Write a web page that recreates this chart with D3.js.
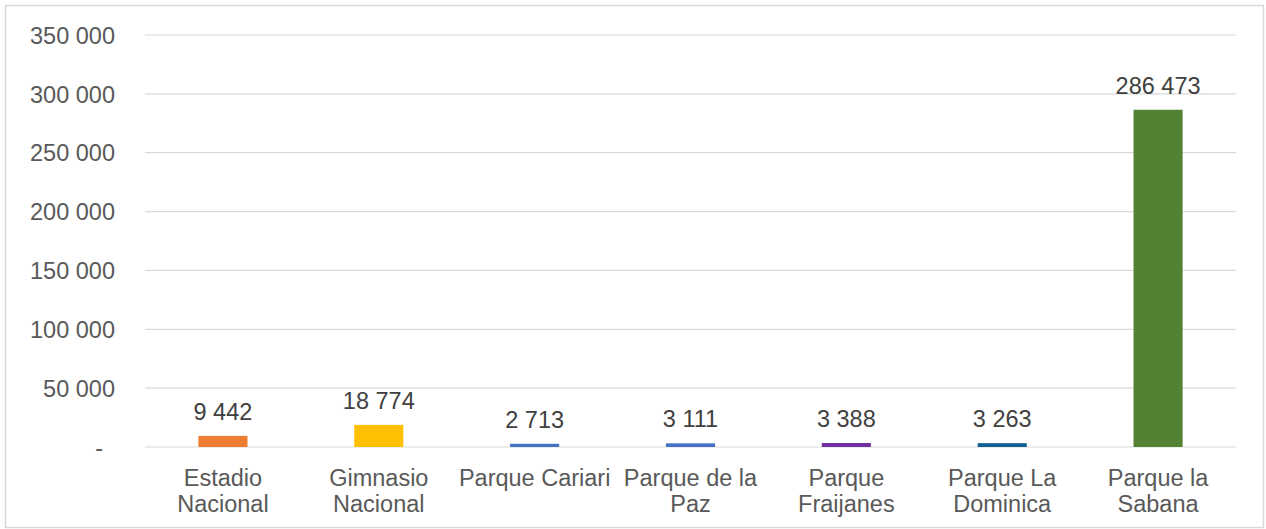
<!DOCTYPE html><html><meta charset="UTF-8">
<title>Visitantes</title>
<style>
  body { margin: 0; overflow: hidden; background: #fff; }
  .grid line { stroke: #d9d9d9; stroke-width: 1.2px; }
  .axis text { font: 23.5px "Liberation Sans", Arial, sans-serif; fill: #595959; }
  .vlabel { font: 23.5px "Liberation Sans", Arial, sans-serif; fill: #404040; }
</style>
<script src="https://cdn.jsdelivr.net/npm/d3@7"></script>
<svg width="1266" height="529"></svg>
<script>

var categories = ["Estadio Nacional", "Gimnasio Nacional", "Parque Cariari", "Parque de la Paz",
                  "Parque Fraijanes", "Parque La Dominica", "Parque la Sabana"];
var values = [9442, 18774, 2713, 3111, 3388, 3263, 286473];
var colors = ["#ed7d31", "#ffc000", "#4472c4", "#4472c4", "#7030a0", "#0f5f94", "#548235"];
var yTicks = [0, 50000, 100000, 150000, 200000, 250000, 300000, 350000];

var svg = d3.select("svg"),
    plotLeft = 145, plotRight = 1236, plotTop = 35, plotBottom = 447;

// chart border
svg.append("rect")
    .attr("x", 5.5).attr("y", 5.5)
    .attr("width", 1258).attr("height", 522)
    .attr("fill", "none").attr("stroke", "#d9d9d9").attr("stroke-width", 1.5);

var x = d3.scaleBand().domain(categories).range([plotLeft, plotRight]).paddingInner(0.685).paddingOuter(0.3425);
var y = d3.scaleLinear().domain([0, 350000]).range([plotBottom, plotTop]);

var fmt = function(v) { return d3.format(",")(v).replace(/,/g, " "); };

// gridlines
svg.append("g").attr("class", "grid")
  .selectAll("line").data(yTicks).enter().append("line")
    .attr("x1", plotLeft).attr("x2", plotRight)
    .attr("y1", function(d) { return y(d); })
    .attr("y2", function(d) { return y(d); });

// y axis labels
var yAxis = svg.append("g").attr("class", "axis")
    .attr("transform", "translate(" + (plotLeft - 30) + ",0)")
    .call(d3.axisLeft(y).tickValues(yTicks).tickSize(0).tickPadding(0)
      .tickFormat(function(d) { return d === 0 ? "-" : fmt(d); }));
yAxis.select(".domain").remove();
yAxis.selectAll("text").attr("dy", "0.35em")
    .attr("dx", function(d) { return d === 0 ? -12 : 0; });

// x axis labels, wrapped to the band step like Excel does
var xAxis = svg.append("g").attr("class", "axis")
    .attr("transform", "translate(0," + plotBottom + ")")
    .call(d3.axisBottom(x).tickSize(0).tickPadding(0));
xAxis.select(".domain").remove();
xAxis.selectAll("text").attr("y", 39).attr("dy", 0).each(function(d) {
  var el = d3.select(this), words = d.split(" "), lines = [], cur = "";
  var maxw = x.step() + 2;
  el.text("");
  var probe = el.append("tspan");
  words.forEach(function(w) {
    var t = cur ? cur + " " + w : w;
    probe.text(t);
    if (cur && probe.node().getComputedTextLength() > maxw) { lines.push(cur); cur = w; }
    else cur = t;
  });
  lines.push(cur);
  probe.remove();
  lines.forEach(function(l, i) {
    el.append("tspan").attr("x", 0).attr("dy", i === 0 ? 0 : 26).text(l);
  });
});

// bars
svg.selectAll(".bar").data(values).enter().append("rect")
    .attr("class", "bar")
    .attr("x", function(d, i) { return x(categories[i]); })
    .attr("width", x.bandwidth())
    .attr("y", function(d) { return y(d); })
    .attr("height", function(d) { return plotBottom - y(d); })
    .attr("fill", function(d, i) { return colors[i]; });

// value labels
svg.selectAll(".vlabel").data(values).enter().append("text")
    .attr("class", "vlabel")
    .attr("text-anchor", "middle")
    .attr("x", function(d, i) { return x(categories[i]) + x.bandwidth() / 2; })
    .attr("y", function(d) { return y(d) - 16; })
    .text(fmt);

</script>
</html>
